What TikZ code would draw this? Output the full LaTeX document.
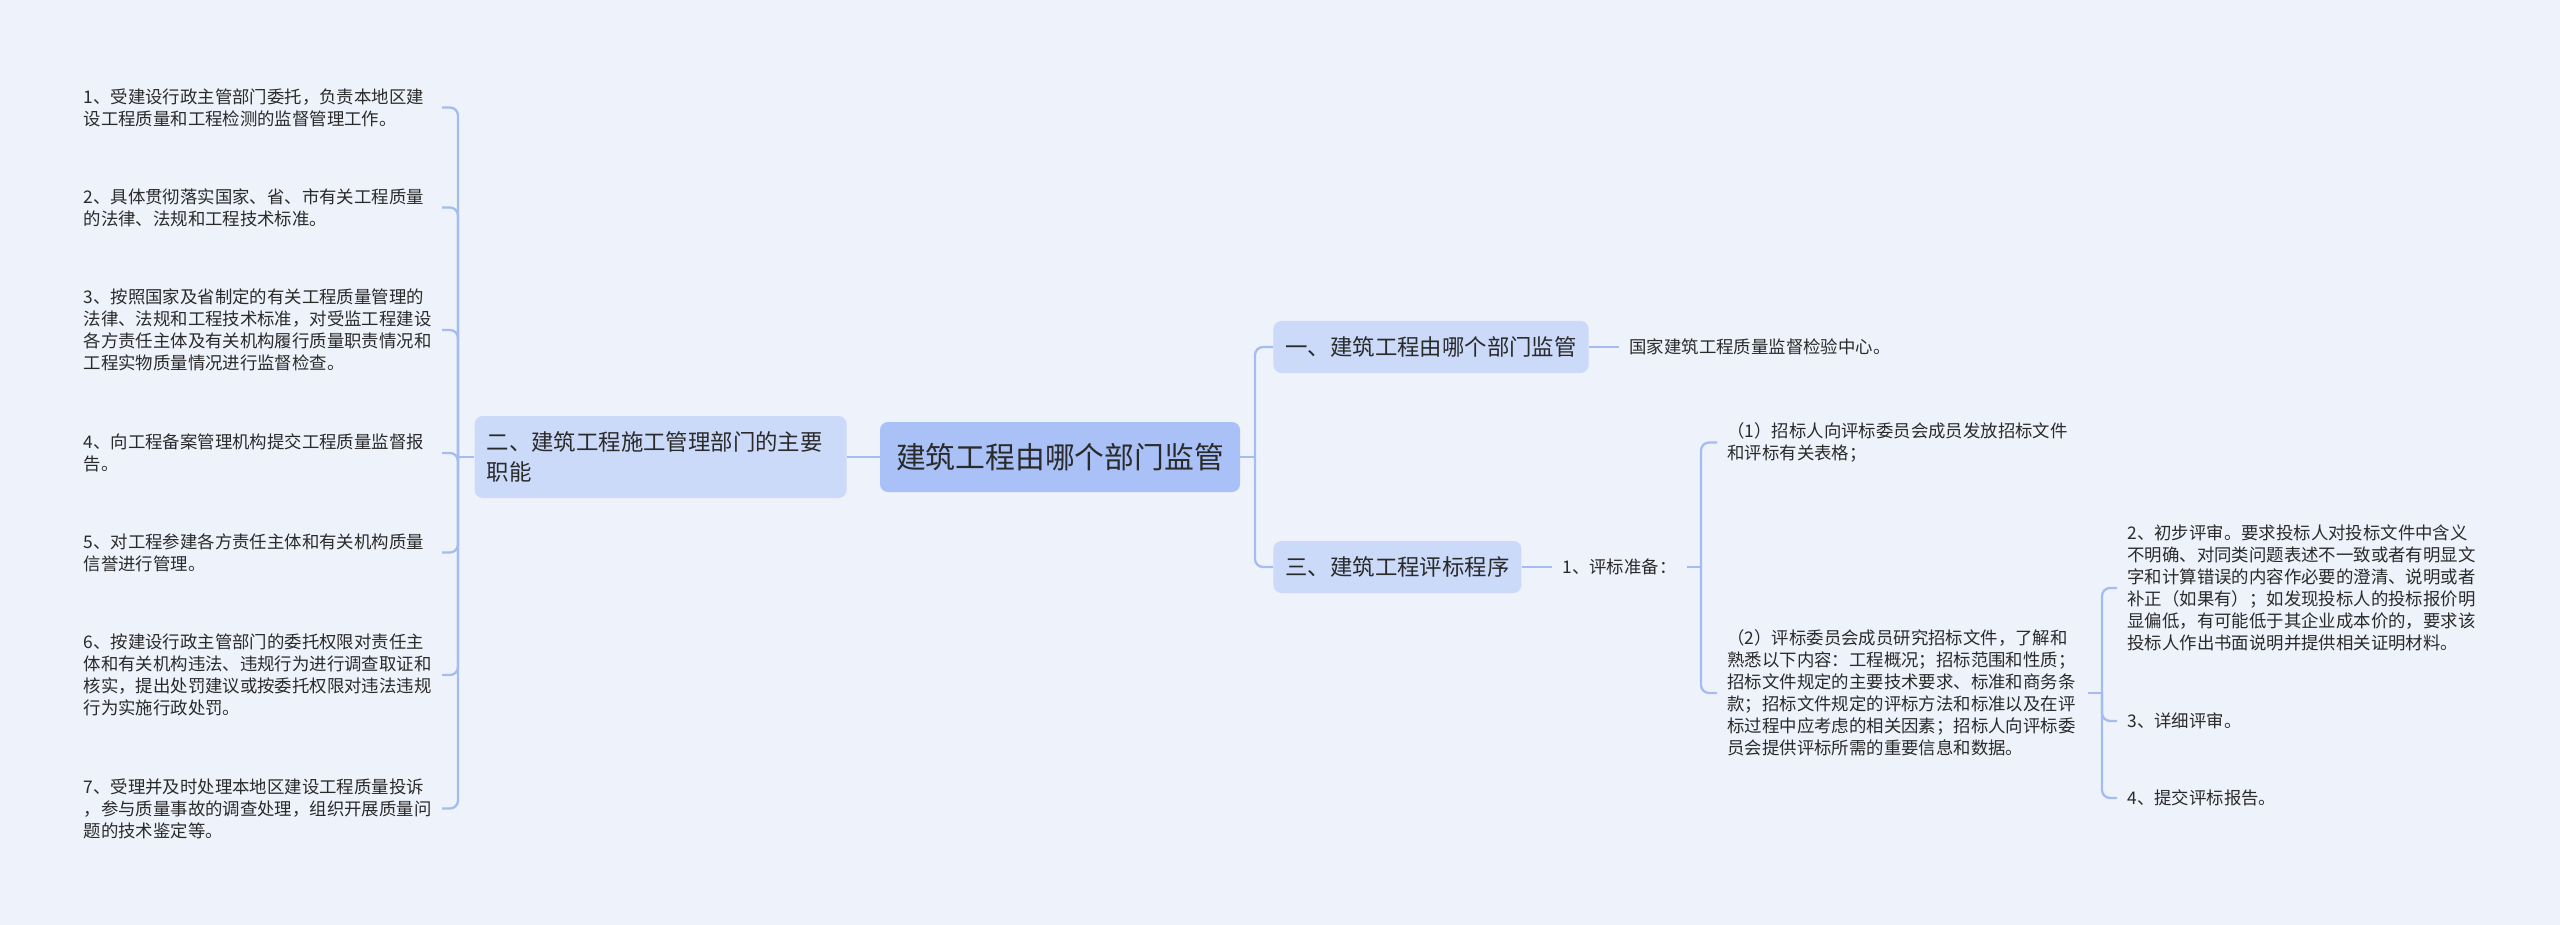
\documentclass[tikz,border=0pt]{standalone}
\usepackage{fontspec}
\setmainfont{Noto Sans CJK SC}
\definecolor{bg}{HTML}{EEF2FB}
\definecolor{rootc}{HTML}{A9C1F7}
\definecolor{lonec}{HTML}{CCDAFA}
\definecolor{linec}{HTML}{A4BCF0}
\definecolor{txt}{HTML}{2A2A2A}
\begin{document}
\begin{tikzpicture}[x=0.5pt,y=-0.5pt,
  every node/.style={text=txt},
  rootbox/.style={fill=rootc, rounded corners=4pt, minimum width=180pt, minimum height=35pt, inner sep=0pt, font=\fontsize{14.9pt}{18pt}\selectfont},
  lonebox/.style={fill=lonec, rounded corners=4pt, minimum height=26pt, inner xsep=6pt, inner ysep=0pt, font=\fontsize{11.2pt}{15pt}\selectfont, anchor=west},
  leaf/.style={inner xsep=5pt, inner ysep=0pt, font=\fontsize{8.7pt}{11pt}\selectfont, align=left},
  conn/.style={draw=linec, line width=1.15pt},
  bracket/.style={conn, rounded corners=4pt}
]
\fill[bg] (0,0) rectangle (2560,925);
\useasboundingbox (0,0) rectangle (2560,925);

% main nodes
\node[rootbox] (root) at (1060,457) {建筑工程由哪个部门监管};
\node[lonebox, minimum width=157pt] (n1) at (1273,347) {一、建筑工程由哪个部门监管};
\node[lonebox] (n3) at (1273,567) {三、建筑工程评标程序};
\node[lonebox, anchor=east, minimum height=41pt, text width=174pt, align=left] (n2) at (847,457) {二、建筑工程施工管理部门的主要\\职能};

% left leaves
\node[leaf, anchor=east, text width=174pt] (a1) at (442,107.5) {1、受建设行政主管部门委托，负责本地区建\\设工程质量和工程检测的监督管理工作。};
\node[leaf, anchor=east, text width=174pt] (a2) at (442,207.5) {2、具体贯彻落实国家、省、市有关工程质量\\的法律、法规和工程技术标准。};
\node[leaf, anchor=east, text width=174pt] (a3) at (442,330) {3、按照国家及省制定的有关工程质量管理的\\法律、法规和工程技术标准，对受监工程建设\\各方责任主体及有关机构履行质量职责情况和\\工程实物质量情况进行监督检查。};
\node[leaf, anchor=east, text width=174pt] (a4) at (442,453) {4、向工程备案管理机构提交工程质量监督报\\告。};
\node[leaf, anchor=east, text width=174pt] (a5) at (442,552.5) {5、对工程参建各方责任主体和有关机构质量\\信誉进行管理。};
\node[leaf, anchor=east, text width=174pt] (a6) at (442,675) {6、按建设行政主管部门的委托权限对责任主\\体和有关机构违法、违规行为进行调查取证和\\核实，提出处罚建议或按委托权限对违法违规\\行为实施行政处罚。};
\node[leaf, anchor=east, text width=174pt] (a7) at (442,808.5) {7、受理并及时处理本地区建设工程质量投诉\\，参与质量事故的调查处理，组织开展质量问\\题的技术鉴定等。};

% right leaves
\node[leaf, anchor=west] (c1) at (1619,347) {国家建筑工程质量监督检验中心。};
\node[leaf, anchor=west] (p) at (1552,567) {1、评标准备：};
\node[leaf, anchor=west] (q1) at (1717,442.5) {（1）招标人向评标委员会成员发放招标文件\\和评标有关表格；};
\node[leaf, anchor=west, text width=175pt] (q2) at (1717,693) {（2）评标委员会成员研究招标文件，了解和\\熟悉以下内容：工程概况；招标范围和性质；\\招标文件规定的主要技术要求、标准和商务条\\款；招标文件规定的评标方法和标准以及在评\\标过程中应考虑的相关因素；招标人向评标委\\员会提供评标所需的重要信息和数据。};
\node[leaf, anchor=west] (r2) at (2117,588) {2、初步评审。要求投标人对投标文件中含义\\不明确、对同类问题表述不一致或者有明显文\\字和计算错误的内容作必要的澄清、说明或者\\补正（如果有）；如发现投标人的投标报价明\\显偏低，有可能低于其企业成本价的，要求该\\投标人作出书面说明并提供相关证明材料。};
\node[leaf, anchor=west] (r3) at (2117,721) {3、详细评审。};
\node[leaf, anchor=west] (r4) at (2117,798) {4、提交评标报告。};

% junctions
\coordinate (jr) at (1255,457);
\coordinate (jl) at (458,457);
\coordinate (jp) at (1701,567);
\coordinate (jq) at (2102,693);

% connectors
\draw[conn] (root.east) -- (jr);
\draw[bracket] (jr) |- (n1.west);
\draw[bracket] (jr) |- (n3.west);
\draw[conn] (root.west) -- (n2.east);
\draw[conn] (n2.west) -- (jl);
\foreach \i in {1,...,7} {\draw[bracket] (jl) |- (a\i.east);}
\draw[conn] (n1.east) -- (c1.west);
\draw[conn] (n3.east) -- (p.west);
\draw[conn] (p.east) -- (jp);
\draw[bracket] (jp) |- (q1.west);
\draw[bracket] (jp) |- (q2.west);
\draw[conn] (q2.east) -- (jq);
\draw[bracket] (jq) |- (r2.west);
\draw[bracket] (jq) |- (r3.west);
\draw[bracket] (jq) |- (r4.west);
\end{tikzpicture}
\end{document}
